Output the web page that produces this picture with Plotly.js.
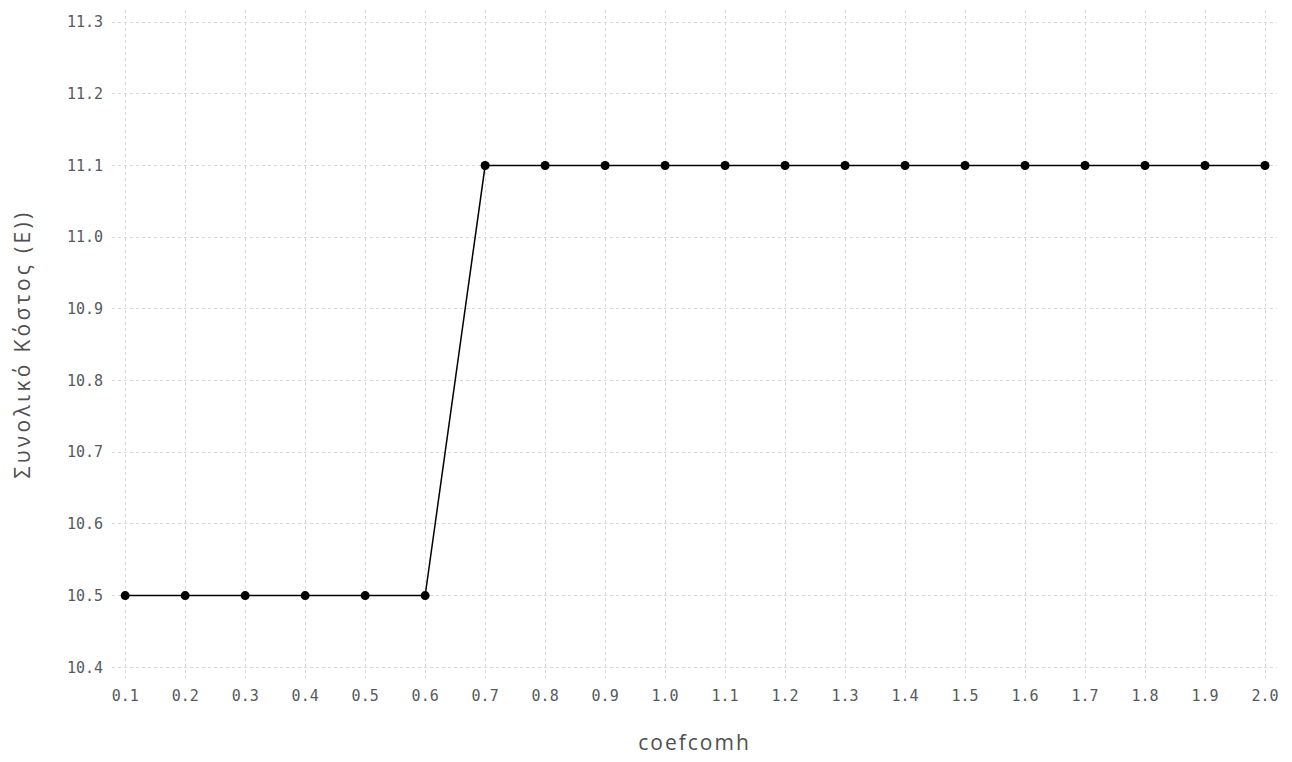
<!DOCTYPE html>
<html><head><meta charset="utf-8">
<script src="https://cdn.plot.ly/plotly-3.0.1.min.js"></script>
<style>
body{margin:0;background:#fff}#c{width:1292px;height:762px}
#c text.xtitle{letter-spacing:2px}
#c text.ytitle{letter-spacing:3.3px}
</style>
</head><body><div id="c"></div>
<script>
const xValues = [0.1,0.2,0.3,0.4,0.5,0.6,0.7,0.8,0.9,1.0,1.1,1.2,1.3,1.4,1.5,1.6,1.7,1.8,1.9,2.0];
const yValues = [10.5,10.5,10.5,10.5,10.5,10.5,11.1,11.1,11.1,11.1,11.1,11.1,11.1,11.1,11.1,11.1,11.1,11.1,11.1,11.1];
const xTicks = [0.1,0.2,0.3,0.4,0.5,0.6,0.7,0.8,0.9,1.0,1.1,1.2,1.3,1.4,1.5,1.6,1.7,1.8,1.9,2.0];
const xTickText = xTicks.map(v => v.toFixed(1));
const yTicks = [10.4,10.5,10.6,10.7,10.8,10.9,11.0,11.1,11.2,11.3];
const yTickText = yTicks.map(v => v.toFixed(1));
const tickFont = "DejaVu Sans Mono, monospace";
const titleFont = "Open Sans, sans-serif";
Plotly.newPlot('c', [{
  x: xValues, y: yValues, type: 'scatter', mode: 'lines+markers',
  line: {color: '#000', width: 1.5},
  marker: {color: '#000', size: 9},
  showlegend: false
}], {
  width: 1292, height: 762,
  margin: {l: 112, r: 15, t: 10, b: 84},
  paper_bgcolor: '#fff', plot_bgcolor: '#fff',
  xaxis: {
    range: [0.078, 2.02], tickvals: xTicks, ticktext: xTickText,
    showgrid: true, gridcolor: '#d8d8e4', griddash: 'dot', gridwidth: 1,
    zeroline: false, showline: false, ticks: '', ticklabelstandoff: 7,
    tickfont: {family: tickFont, size: 15, color: '#555a60'},
    title: {text: 'coefcomh', font: {family: titleFont, size: 21, color: '#505050'}, standoff: 31}
  },
  yaxis: {
    range: [10.385, 11.317], tickvals: yTicks, ticktext: yTickText,
    showgrid: true, gridcolor: '#d8d8e4', griddash: 'dot', gridwidth: 1,
    zeroline: false, showline: false, ticks: '', ticklabelstandoff: 8,
    tickfont: {family: tickFont, size: 15, color: '#555a60'},
    title: {text: 'Συνολικό Κόστος (E))', font: {family: titleFont, size: 21, color: '#505050'}, standoff: 30}
  }
}, {displayModeBar: false});
</script></body></html>
